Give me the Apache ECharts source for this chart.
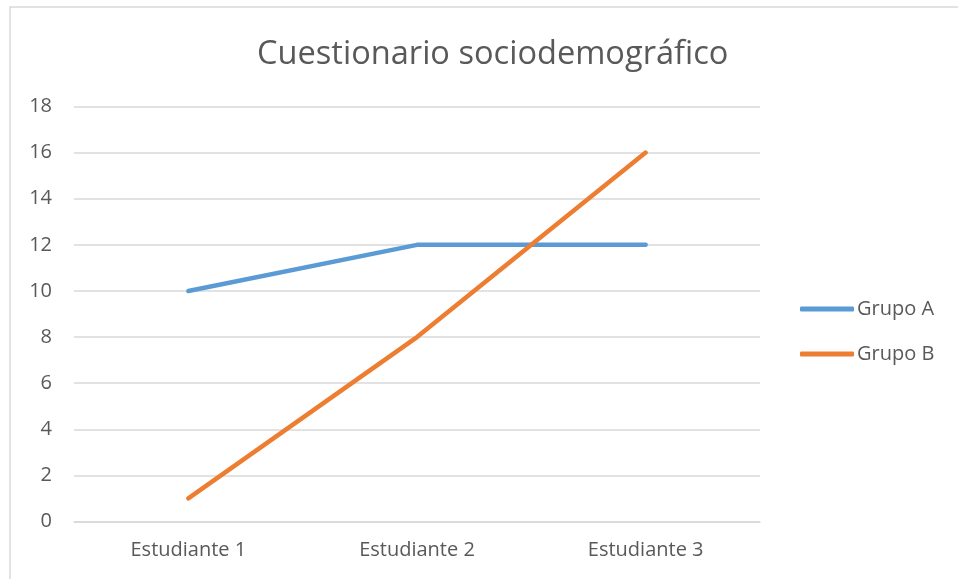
<!DOCTYPE html>
<html><head><meta charset="utf-8">
<script src="https://cdn.jsdelivr.net/npm/echarts@6/dist/echarts.min.js"></script>
<style>html,body{margin:0;padding:0;background:#fff}#c{width:958px;height:579px}</style>
</head><body><div id="c"></div>
<script>
const categories = ['Estudiante 1', 'Estudiante 2', 'Estudiante 3'];
const grupoA = [10, 12, 12];
const grupoB = [1, 8, 16];
const yTicks = {min: 0, max: 18, interval: 2};
const FONT = '"Open Sans", "Liberation Sans", sans-serif';
const chart = echarts.init(document.getElementById('c'));
chart.setOption({
  animation: false,
  backgroundColor: '#fff',
  graphic: [{type: 'rect', shape: {x: 10, y: 7, width: 1000, height: 1000}, style: {fill: 'none', stroke: '#D9D9D9', lineWidth: 1.5}}],
  title: {text: 'Cuestionario sociodemográfico', left: 252, top: 33, textStyle: {fontFamily: FONT, fontSize: 32.6, fontWeight: 'normal', color: '#595959'}},
  grid: {left: 74, right: 198, top: 106.5, bottom: 57.5},
  legend: {orient: 'vertical', left: 795, top: 294, itemWidth: 54, itemHeight: 5, itemGap: 25, icon: 'roundRect',
    textStyle: {fontFamily: FONT, fontSize: 20, color: '#595959', padding: [0,0,0,-2]}, data: ['Grupo A', 'Grupo B']},
  xAxis: {type: 'category', data: categories, boundaryGap: true,
    axisLine: {lineStyle: {color: '#D9D9D9', width: 1.5}}, axisTick: {show: false},
    axisLabel: {fontFamily: FONT, fontSize: 20, color: '#595959', margin: 19}},
  yAxis: {type: 'value', min: yTicks.min, max: yTicks.max, interval: yTicks.interval,
    axisLine: {show: false}, axisTick: {show: false},
    splitLine: {lineStyle: {color: '#D9D9D9', width: 1.5}},
    axisLabel: {fontFamily: FONT, fontSize: 20, color: '#595959', margin: 22}},
  series: [
    {name: 'Grupo A', type: 'line', data: grupoA, symbol: 'none', lineStyle: {width: 4.5, color: '#5B9BD5', cap: 'round'}, itemStyle: {color: '#5B9BD5'}},
    {name: 'Grupo B', type: 'line', data: grupoB, symbol: 'none', lineStyle: {width: 4.5, color: '#ED7D31', cap: 'round'}, itemStyle: {color: '#ED7D31'}}
  ]
});
</script></body></html>
